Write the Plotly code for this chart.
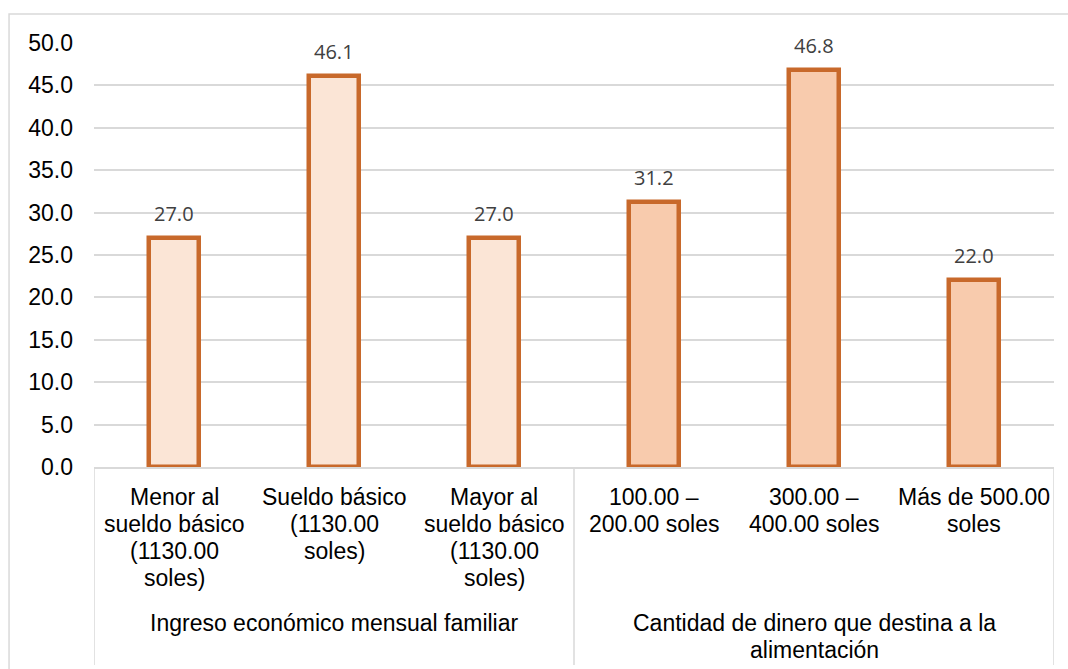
import plotly.graph_objects as go

categories = [
    ["Menor al", "sueldo básico", "(1130.00", "soles)"],
    ["Sueldo básico", "(1130.00", "soles)"],
    ["Mayor al", "sueldo básico", "(1130.00", "soles)"],
    ["100.00 –", "200.00 soles"],
    ["300.00 –", "400.00 soles"],
    ["Más de 500.00", "soles"],
]
values = [27.0, 46.1, 27.0, 31.2, 46.8, 22.0]
groups = [
    ["Ingreso económico mensual familiar"],
    ["Cantidad de dinero que destina a la", "alimentación"],
]
group_sizes = [3, 3]
y_ticks = [0, 5, 10, 15, 20, 25, 30, 35, 40, 45, 50]

fill_colors = ["#FBE5D6"] * 3 + ["#F8CBAD"] * 3
edge = "#C8692B"
grid = "#D9D9D9"
font_main = "Liberation Sans, Arial, sans-serif"

x = list(range(len(values)))

fig = go.Figure()
fig.add_trace(go.Bar(
    x=x, y=values, width=0.31,
    marker=dict(color=fill_colors, line=dict(color=edge, width=4.5)),
    hoverinfo="skip",
))

annotations = []
# data labels
for xi, v in zip(x, values):
    annotations.append(dict(
        x=xi, y=v, xref="x", yref="y", text=f"{v:.1f}", showarrow=False,
        yanchor="middle", yshift=25,
        font=dict(family="Open Sans, sans-serif", size=20, color="#404040"),
    ))
# category labels (one annotation per line)
line_h = 27
for xi, lines in zip(x, categories):
    for j, t in enumerate(lines):
        annotations.append(dict(
            x=xi, y=0, xref="x", yref="y", text=t, showarrow=False,
            yanchor="middle", yshift=-(30 + j * line_h),
            font=dict(family=font_main, size=23, color="#000000"),
        ))
# group labels
start = 0
for g, n in zip(groups, group_sizes):
    cx = start + (n - 1) / 2
    for j, t in enumerate(g):
        annotations.append(dict(
            x=cx, y=0, xref="x", yref="y", text=t, showarrow=False,
            yanchor="middle", yshift=-(156 + j * line_h),
            font=dict(family=font_main, size=23, color="#000000"),
        ))
    start += n

shapes = []
# group separators
bounds = [-0.5]
acc = -0.5
for n in group_sizes:
    acc += n
    bounds.append(acc)
for b in bounds:
    shapes.append(dict(type="line", xref="x", yref="paper", x0=b, x1=b,
                       y0=0, y1=-0.467, line=dict(color=grid, width=1.5)))
# outer chart frame
shapes.append(dict(type="rect", xref="paper", yref="paper",
                   x0=-0.0885, x1=1.03, y0=-0.6, y1=1.0684,
                   line=dict(color=grid, width=1.5), fillcolor="rgba(0,0,0,0)",
                   layer="below"))

fig.update_layout(
    width=1068, height=669,
    margin=dict(l=94, r=14, t=43, b=202),
    paper_bgcolor="white", plot_bgcolor="white",
    showlegend=False,
    annotations=annotations,
    shapes=shapes,
    bargap=0,
)
fig.update_xaxes(
    range=[-0.5, 5.5], showticklabels=False, showgrid=False,
    showline=True, linecolor=grid, linewidth=1.5, zeroline=False, ticks="",
)
fig.update_yaxes(
    range=[0, 50], tickvals=y_ticks, tickformat=".1f",
    showgrid=True, gridcolor=grid, gridwidth=1.5, zeroline=False,
    showline=False, ticks="", ticklabelstandoff=20,
    tickfont=dict(family=font_main, size=23, color="#000000"),
)

fig.write_html("out.html")
